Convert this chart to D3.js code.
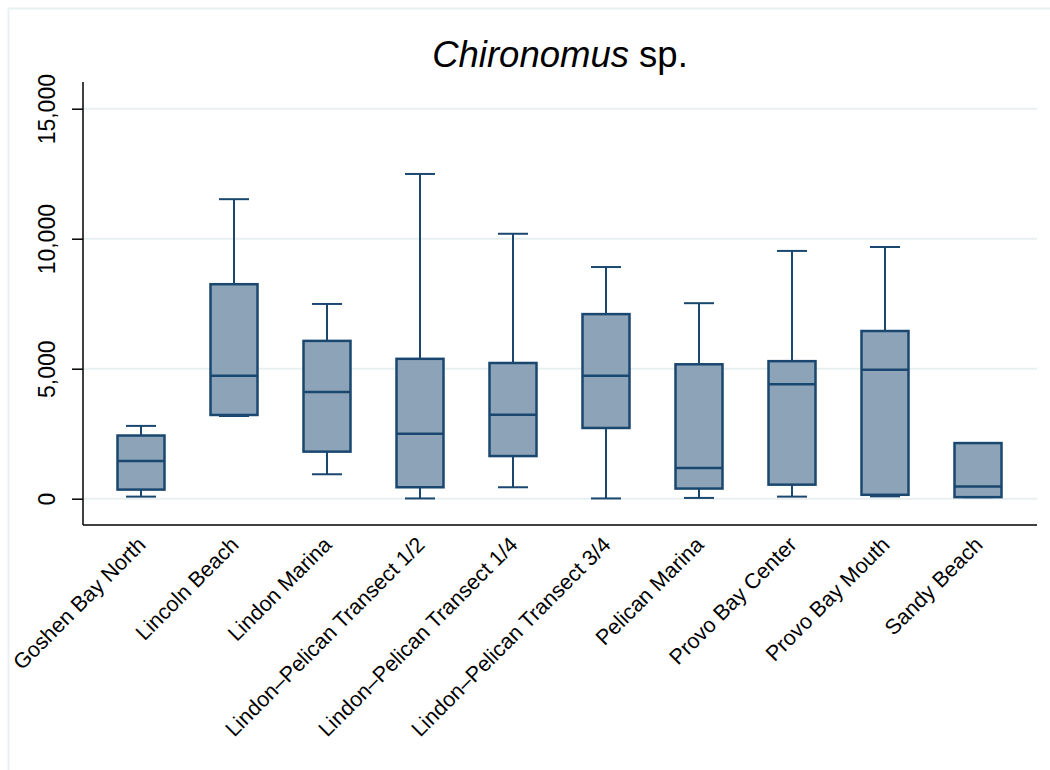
<!DOCTYPE html>
<html>
<head>
<meta charset="utf-8">
<script src="https://cdn.jsdelivr.net/npm/d3@7"></script>
<style>
  html, body { margin: 0; padding: 0; background: #ffffff; }
  svg { display: block; }
  text { font-family: "Liberation Sans", Arial, Helvetica, sans-serif; fill: #000; }
</style>
</head>
<body>
<svg id="chart" width="1050" height="770"></svg>
<script>
// ---- Data ----
const categories = [
  "Goshen Bay North", "Lincoln Beach", "Lindon Marina",
  "Lindon\u2013Pelican Transect 1/2", "Lindon\u2013Pelican Transect 1/4",
  "Lindon\u2013Pelican Transect 3/4", "Pelican Marina", "Provo Bay Center",
  "Provo Bay Mouth", "Sandy Beach"
];
const lowerWhisker = [80, 3180, 940, 10, 440, 10, 30, 80, 90, 60];
const quartile1    = [350, 3220, 1810, 440, 1640, 2720, 390, 540, 150, 60];
const medians      = [1450, 4730, 4100, 2500, 3230, 4730, 1180, 4400, 4960, 470];
const quartile3    = [2430, 8250, 6070, 5380, 5220, 7100, 5170, 5290, 6450, 2140];
const upperWhisker = [2800, 11520, 7490, 12490, 10190, 8910, 7520, 9530, 9680, 2140];
const yTickValues  = [0, 5000, 10000, 15000];
const titleItalic  = "Chironomus";
const titleRest    = " sp.";

// ---- Layout ----
const svg = d3.select("#chart");
const plotLeft = 83, plotRight = 1037, plotTop = 82, plotBottom = 525;
const navy = "#1a476f", boxFill = "#8da4b8", gridColor = "#e8eff1";

const x = d3.scalePoint().domain(categories).range([141, 978]);
const y = d3.scaleLinear().domain([0, 15000]).range([498.7, 108.7]);

const rows = categories.map((c, i) => ({
  cat: c, lo: lowerWhisker[i], q1: quartile1[i], med: medians[i],
  q3: quartile3[i], hi: upperWhisker[i]
}));

// outer graph-region border (light)
svg.append("path")
  .attr("d", `M8.5,770 V8.5 H1050`)
  .attr("fill", "none").attr("stroke", "#e9f0f2").attr("stroke-width", 2);

// gridlines
svg.append("g").selectAll("line").data(yTickValues).join("line")
  .attr("x1", plotLeft).attr("x2", plotRight)
  .attr("y1", d => y(d)).attr("y2", d => y(d))
  .attr("stroke", gridColor).attr("stroke-width", 2);

// y axis
const yAxis = svg.append("g")
  .attr("transform", `translate(${plotLeft},0)`)
  .call(d3.axisLeft(y).tickValues(yTickValues).tickSize(11).tickFormat(d3.format(",")));
yAxis.select(".domain").attr("d", `M0,${plotTop}V${plotBottom}`).attr("stroke", "#000").attr("stroke-width", 1.5);
yAxis.selectAll(".tick line").attr("stroke", "#000").attr("stroke-width", 1.5);
yAxis.selectAll(".tick text")
  .attr("transform", "rotate(-90)")
  .attr("x", 0).attr("y", -28).attr("dy", null)
  .attr("text-anchor", "middle")
  .style("font-size", "23px")
  .style("font-family", "'Liberation Sans', Arial, Helvetica, sans-serif")
  .attr("fill", "#000");

// x axis (no ticks)
const xAxis = svg.append("g")
  .attr("transform", `translate(0,${plotBottom})`)
  .call(d3.axisBottom(x).tickSize(0).tickFormat(""));
xAxis.select(".domain").attr("d", `M${plotLeft},0H${plotRight}`).attr("stroke", "#000").attr("stroke-width", 1.5);
xAxis.selectAll(".tick text").remove();

svg.append("g").selectAll("text").data(categories).join("text")
  .attr("transform", d => `translate(${x(d) + 6},546) rotate(-45)`)
  .attr("text-anchor", "end")
  .style("font-size", "21.5px")
  .text(d => d);

// boxes
const boxW = 47, capW = 30;
const g = svg.append("g").selectAll("g").data(rows).join("g");

// whiskers
g.append("line")
  .attr("x1", d => x(d.cat)).attr("x2", d => x(d.cat))
  .attr("y1", d => y(d.q3)).attr("y2", d => y(d.hi))
  .attr("stroke", navy).attr("stroke-width", 2);
g.append("line")
  .attr("x1", d => x(d.cat)).attr("x2", d => x(d.cat))
  .attr("y1", d => y(d.q1)).attr("y2", d => y(d.lo))
  .attr("stroke", navy).attr("stroke-width", 2);
// caps
g.append("line")
  .attr("x1", d => x(d.cat) - capW / 2).attr("x2", d => x(d.cat) + capW / 2)
  .attr("y1", d => y(d.hi)).attr("y2", d => y(d.hi))
  .attr("stroke", navy).attr("stroke-width", 2);
g.append("line")
  .attr("x1", d => x(d.cat) - capW / 2).attr("x2", d => x(d.cat) + capW / 2)
  .attr("y1", d => y(d.lo)).attr("y2", d => y(d.lo))
  .attr("stroke", navy).attr("stroke-width", 2);
// box
g.append("rect")
  .attr("x", d => x(d.cat) - boxW / 2).attr("width", boxW)
  .attr("y", d => y(d.q3)).attr("height", d => y(d.q1) - y(d.q3))
  .attr("fill", boxFill).attr("stroke", navy).attr("stroke-width", 2.5);
// median
g.append("line")
  .attr("x1", d => x(d.cat) - boxW / 2).attr("x2", d => x(d.cat) + boxW / 2)
  .attr("y1", d => y(d.med)).attr("y2", d => y(d.med))
  .attr("stroke", navy).attr("stroke-width", 2.5);

// title
const title = svg.append("text")
  .attr("x", (plotLeft + plotRight) / 2).attr("y", 67)
  .attr("text-anchor", "middle")
  .style("font-size", "36.5px");
title.append("tspan").style("font-style", "italic").text(titleItalic);
title.append("tspan").text(titleRest);
</script>
</body>
</html>
